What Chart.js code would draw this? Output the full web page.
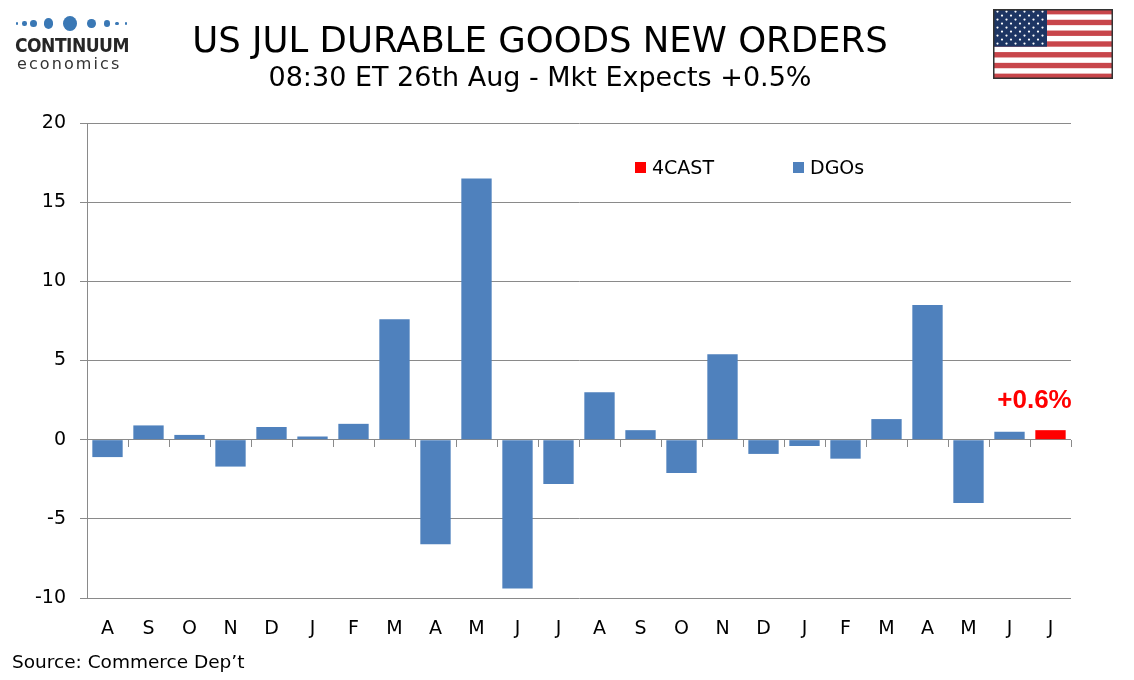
<!DOCTYPE html>
<html>
<head>
<meta charset="utf-8">
<script src="https://cdn.jsdelivr.net/npm/chart.js@4.4.1/dist/chart.umd.min.js"></script>
<style>
  html, body { margin: 0; padding: 0; background: #fff; }
  body { width: 1134px; height: 680px; position: relative; overflow: hidden;
         font-family: 'DejaVu Sans', Verdana, sans-serif; color: #000; }
  #wrap { position: absolute; left: 0; top: 0; width: 1134px; height: 680px; }
  .title { position: absolute; left: 0; width: 1080px; text-align: center;
           font-family: 'DejaVu Sans', Verdana, sans-serif; white-space: nowrap; line-height: normal; }
  #t1 { top: 19px; font-size: 35.5px; }
  #t2 { top: 61px; font-size: 27px; }
  #source { position: absolute; left: 12px; top: 651px; font-size: 18.5px; }
  .lg { position: absolute; top: 155px; font-size: 19px; line-height: 24px; }
  .lg i { display: inline-block; width: 11px; height: 11px; margin-right: 6px; vertical-align: 1px; }
  #logo { position: absolute; left: 0; top: 0; width: 150px; height: 80px; }
  .dot { position: absolute; background: #3a78b5; border-radius: 50%; }
  #brand { position: absolute; left: 15px; top: 34px; font-family: 'DejaVu Sans Condensed', sans-serif;
           font-weight: bold; font-size: 19px; color: #262626; letter-spacing: -0.5px; }
  #brand2 { position: absolute; left: 17px; top: 54px; font-size: 16px; color: #333; letter-spacing: 2.1px; }
  #flag { position: absolute; left: 993px; top: 9px; }
</style>
</head>
<body>
<div id="wrap"><canvas id="chart" width="1134" height="680"></canvas></div>
<div class="title" id="t1">US JUL DURABLE GOODS NEW ORDERS</div>
<div class="title" id="t2">08:30 ET 26th Aug - Mkt Expects +0.5%</div>
<div id="logo"></div>
<div id="brand">CONTINUUM</div>
<div id="brand2">economics</div>
<canvas id="flag" width="120" height="70"></canvas>
<div class="lg" style="left:635px"><i style="background:#ff0000"></i>4CAST</div>
<div class="lg" style="left:793px"><i style="background:#4f81bd"></i>DGOs</div>
<div id="source">Source: Commerce Dep’t</div>
<script>
// ---- data ----
const months = ['A', 'S', 'O', 'N', 'D', 'J', 'F', 'M', 'A', 'M', 'J', 'J',
                'A', 'S', 'O', 'N', 'D', 'J', 'F', 'M', 'A', 'M', 'J', 'J'];
const dgos = [-1.1, 0.9, 0.3, -1.7, 0.8, 0.2, 1.0, 7.6, -6.6, 16.5, -9.4, -2.8,
              3.0, 0.6, -2.1, 5.4, -0.9, -0.4, -1.2, 1.3, 8.5, -4.0, 0.5, null];
const forecast = [null, null, null, null, null, null, null, null, null, null, null, null,
                  null, null, null, null, null, null, null, null, null, null, null, 0.6];
const yTicks = [-10, -5, 0, 5, 10, 15, 20];

const BLUE = '#4f81bd';
const RED = '#ff0000';
const GRID = '#8a8a8a';
const tickFont = { family: "'DejaVu Sans', Verdana, sans-serif", size: 19 };

// ---- logo dots ----
const dots = [[17, 1.3], [24.5, 2.1], [33.5, 3.4], [48.5, 4.8], [70, 7], [91.5, 4.6], [106.5, 3], [117, 1.8], [126, 1.2]];
const logo = document.getElementById('logo');
dots.forEach(([cx, r]) => {
  const d = document.createElement('div');
  d.className = 'dot';
  d.style.left = (cx - r) + 'px';
  d.style.top = (23.5 - r * 1.08) + 'px';
  d.style.width = (2 * r) + 'px';
  d.style.height = (2.16 * r) + 'px';
  logo.appendChild(d);
});

// ---- flag ----
(function drawFlag() {
  const c = document.getElementById('flag').getContext('2d');
  const w = 120, h = 70, sh = h / 13;
  c.fillStyle = '#fff';
  c.fillRect(0, 0, w, h);
  c.fillStyle = '#c8464b';
  for (let i = 0; i < 13; i += 2) c.fillRect(0, i * sh, w, sh);
  const cw = 54, ch = sh * 7;
  c.fillStyle = '#1d3563';
  c.fillRect(0, 0, cw, ch);
  c.fillStyle = '#fff';
  for (let row = 0; row < 9; row++) {
    const n = row % 2 === 0 ? 6 : 5;
    for (let k = 0; k < n; k++) {
      const x = (row % 2 === 0 ? 4.5 : 9) + k * 9;
      const y = 2.6 + row * 4;
      c.beginPath();
      c.arc(x, y, 1.1, 0, Math.PI * 2);
      c.fill();
    }
  }
  c.strokeStyle = '#333';
  c.lineWidth = 1.5;
  c.strokeRect(0.75, 0.75, w - 1.5, h - 1.5);
})();

// ---- forecast label ----
const fcLabel = {
  id: 'fcLabel',
  afterDatasetsDraw(chart) {
    const i = forecast.length - 1;
    const bar = chart.getDatasetMeta(0).data[i];
    if (!bar) return;
    const ctx = chart.ctx;
    ctx.save();
    ctx.fillStyle = RED;
    ctx.font = "bold 26px 'Liberation Sans', Arial, sans-serif";
    ctx.textAlign = 'center';
    ctx.textBaseline = 'middle';
    ctx.fillText('+' + forecast[i].toFixed(1) + '%', bar.x - 16, bar.y - 29);
    ctx.restore();
  }
};

new Chart(document.getElementById('chart'), {
  type: 'bar',
  data: {
    labels: months,
    datasets: [
      { label: '4CAST', data: forecast, backgroundColor: RED, grouped: false,
        categoryPercentage: 1, barPercentage: 0.74 },
      { label: 'DGOs', data: dgos, backgroundColor: BLUE, grouped: false,
        categoryPercentage: 1, barPercentage: 0.74 },
    ],
  },
  options: {
    responsive: false,
    animation: false,
    layout: { padding: { left: 0, top: 123, right: 63, bottom: 42 } },
    plugins: { legend: { display: false }, tooltip: { enabled: false } },
    scales: {
      x: {
        type: 'category',
        offset: true,
        grid: { display: false },
        border: { display: false },
        ticks: { color: '#000', font: tickFont, padding: 12, maxRotation: 0, autoSkip: false },
        afterFit: (s) => { s.height = 40; },
      },
      xTick: {
        axis: 'x',
        type: 'category',
        position: { y: 0 },
        offset: true,
        grid: { offset: true, drawOnChartArea: false, drawTicks: true, tickLength: 7, color: GRID },
        border: { display: false },
        ticks: { display: false },
      },
      y: {
        min: -10,
        max: 20,
        afterBuildTicks: (s) => { s.ticks = yTicks.map((v) => ({ value: v })); },
        grid: { color: GRID, tickLength: 7 },
        border: { color: GRID },
        ticks: { color: '#000', font: tickFont, padding: 14 },
        afterFit: (s) => { s.width = 87; },
      },
    },
  },
  plugins: [fcLabel],
});
</script>
</body>
</html>
